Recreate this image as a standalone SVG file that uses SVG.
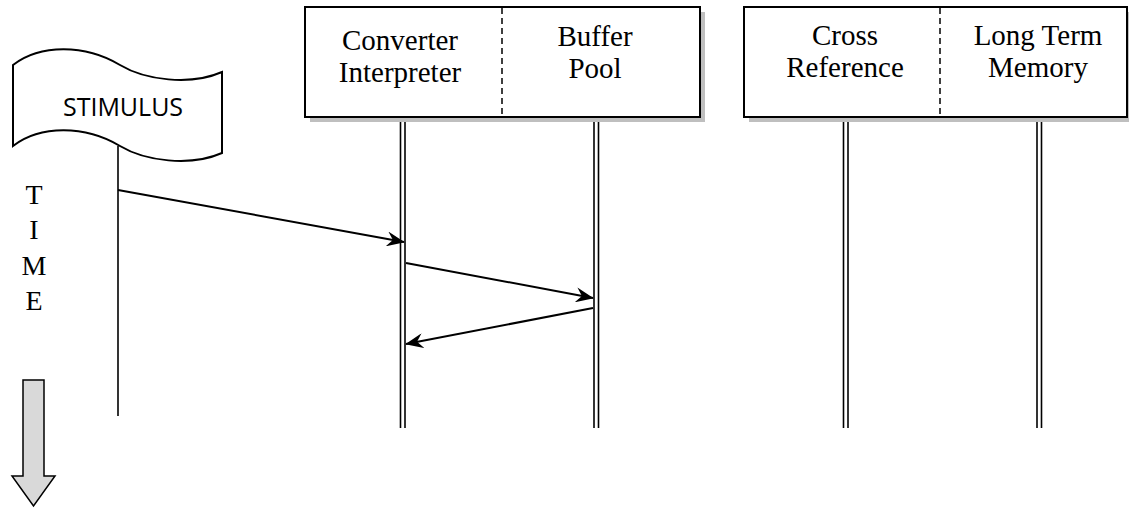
<svg xmlns="http://www.w3.org/2000/svg" width="1129" height="508" viewBox="0 0 1129 508">
  <style>
    .box { fill: #ffffff; stroke: #000000; stroke-width: 2; }
    .shadow { fill: #bfbfbf; }
    .divider { stroke: #000000; stroke-width: 1.5; stroke-dasharray: 6 4; fill: none; }
    .label { font-family: "Liberation Serif", "Times New Roman", serif; font-size: 29px; fill: #000000; text-anchor: middle; }
    .life { stroke: #000000; stroke-width: 1.6; fill: none; }
    .msg { stroke: #000000; stroke-width: 2; fill: none; marker-end: url(#head); }
    .flag { fill: #ffffff; stroke: #000000; stroke-width: 2; }
    .flagtext { font-family: "Open Sans", "Liberation Sans", sans-serif; font-size: 25px; fill: #000000; text-anchor: middle; }
    .time { font-family: "Liberation Serif", "Times New Roman", serif; font-size: 28px; fill: #000000; text-anchor: middle; }
  </style>
  <defs>
    <marker id="head" viewBox="0 0 12 10" refX="11.5" refY="5" markerWidth="9" markerHeight="7.5" markerUnits="strokeWidth" orient="auto">
      <path d="M0,0 L12,5 L0,10 L4,5 Z" fill="#000000"/>
    </marker>
  </defs>

  <rect width="1129" height="508" fill="#ffffff"/>

  <!-- stimulus flag with its lifeline -->
  <g id="stimulus">
    <line class="life" x1="118" y1="146" x2="118" y2="416" stroke-width="2"/>
    <path class="flag" d="M13,65 C40,44 85,44 120,65 C145,80 190,86 222,72 L222,153 C190,167 145,161 120,146 C85,125 40,125 13,146 Z"/>
    <text class="flagtext" x="123" y="116">STIMULUS</text>
  </g>

  <!-- time axis -->
  <g id="time">
    <text class="time" x="34" y="204">T</text>
    <text class="time" x="34" y="239">I</text>
    <text class="time" x="34" y="275">M</text>
    <text class="time" x="34" y="310">E</text>
    <polygon points="23,380 44,380 44,476 55,476 33.5,506 12,476 23,476" fill="#d9d9d9" stroke="#000000" stroke-width="1.5" stroke-linejoin="miter"/>
  </g>

  <!-- lifelines -->
  <g id="lifelines">
    <line class="life" x1="400.5" y1="117" x2="400.5" y2="428"/>
    <line class="life" x1="405" y1="117" x2="405" y2="428"/>
    <line class="life" x1="594" y1="117" x2="594" y2="428"/>
    <line class="life" x1="598.5" y1="117" x2="598.5" y2="428"/>
    <line class="life" x1="843.5" y1="117" x2="843.5" y2="428"/>
    <line class="life" x1="848" y1="117" x2="848" y2="428"/>
    <line class="life" x1="1037" y1="117" x2="1037" y2="428"/>
    <line class="life" x1="1041.5" y1="117" x2="1041.5" y2="428"/>
  </g>

  <!-- first component box: converter/interpreter and buffer pool -->
  <g id="box-converter-buffer">
    <rect class="shadow" x="310" y="12" width="395" height="110"/>
    <rect class="box" x="305" y="7" width="395" height="110"/>
    <line class="divider" x1="502" y1="8" x2="502" y2="116"/>
    <text class="label" x="400" y="50">Converter</text>
    <text class="label" x="400" y="82">Interpreter</text>
    <text class="label" x="595" y="46">Buffer</text>
    <text class="label" x="595" y="78">Pool</text>
  </g>

  <!-- second component box: cross reference and long term memory -->
  <g id="box-crossref-memory">
    <rect class="shadow" x="749" y="12" width="383" height="110"/>
    <rect class="box" x="744" y="7" width="383" height="110"/>
    <line class="divider" x1="940" y1="8" x2="940" y2="116"/>
    <text class="label" x="845" y="45">Cross</text>
    <text class="label" x="845" y="77">Reference</text>
    <text class="label" x="1038" y="45">Long Term</text>
    <text class="label" x="1038" y="77">Memory</text>
  </g>

  <!-- messages -->
  <g id="connectors">
    <line class="msg" x1="118" y1="190" x2="404" y2="242"/>
    <line class="msg" x1="406" y1="263" x2="593" y2="298"/>
    <line class="msg" x1="593" y1="308" x2="406" y2="344"/>
  </g>
</svg>
